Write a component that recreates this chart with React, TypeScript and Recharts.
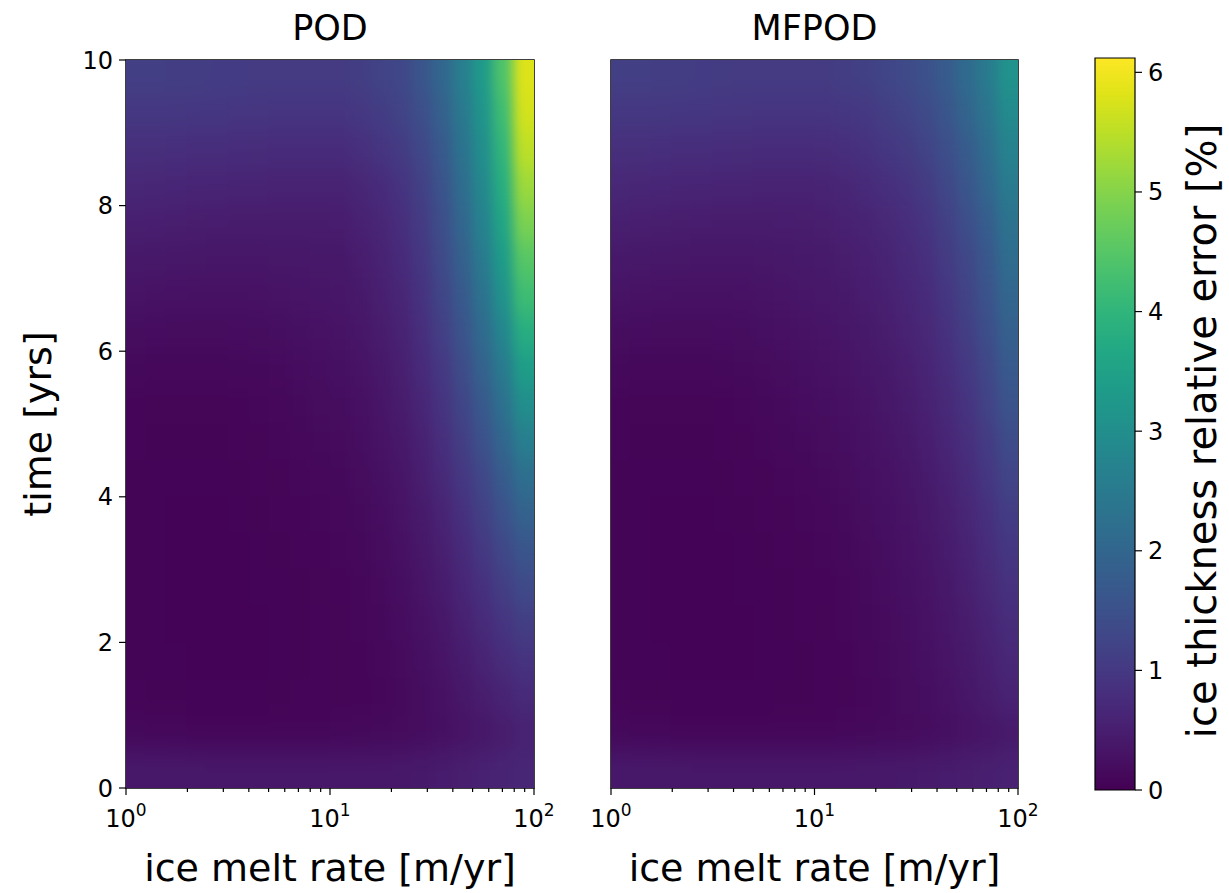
import React from 'react';
import { ScatterChart, Scatter, XAxis, YAxis, ReferenceArea, BarChart, Bar } from 'recharts';

const FONT = '"DejaVu Sans", "Liberation Sans", sans-serif';

// cell centres: melt rate (log spaced) and time
const rateCenters = [1.12, 1.41, 1.78, 2.24, 2.82, 3.55, 4.47, 5.62, 7.08, 8.91, 11.2, 14.1, 17.8, 22.4, 28.2, 35.5, 44.7, 56.2, 70.8, 89.1];
const timeCenters = [9.75, 9.25, 8.75, 8.25, 7.75, 7.25, 6.75, 6.25, 5.75, 5.25, 4.75, 4.25, 3.75, 3.25, 2.75, 2.25, 1.75, 1.25, 0.75, 0.25];

// relative error [%], one row per time centre (top row = t 9.75)
const podGrid = [
  [1.12, 1.12, 1.1, 1.1, 1.08, 1.08, 1.06, 1.05, 1.05, 1.05, 1.05, 1.1, 1.2, 1.3, 1.6, 2.0, 2.6, 3.3, 4.4, 5.8],
  [0.98, 0.98, 0.97, 0.96, 0.95, 0.94, 0.93, 0.92, 0.92, 0.92, 0.92, 0.98, 1.08, 1.2, 1.45, 1.85, 2.45, 3.15, 4.2, 5.7],
  [0.82, 0.82, 0.8, 0.79, 0.78, 0.77, 0.76, 0.75, 0.75, 0.75, 0.75, 0.82, 0.92, 1.05, 1.3, 1.7, 2.3, 3.0, 4.0, 5.5],
  [0.66, 0.65, 0.64, 0.62, 0.61, 0.6, 0.59, 0.58, 0.58, 0.58, 0.58, 0.65, 0.75, 0.9, 1.15, 1.55, 2.15, 2.85, 3.8, 5.2],
  [0.52, 0.51, 0.5, 0.48, 0.47, 0.46, 0.46, 0.46, 0.46, 0.46, 0.47, 0.55, 0.65, 0.8, 1.05, 1.45, 2.0, 2.7, 3.6, 4.9],
  [0.4, 0.39, 0.38, 0.37, 0.36, 0.36, 0.36, 0.37, 0.38, 0.39, 0.4, 0.47, 0.58, 0.72, 0.95, 1.35, 1.85, 2.5, 3.35, 4.5],
  [0.3, 0.29, 0.28, 0.27, 0.27, 0.27, 0.28, 0.3, 0.32, 0.34, 0.36, 0.42, 0.52, 0.65, 0.88, 1.25, 1.7, 2.3, 3.1, 4.2],
  [0.2, 0.19, 0.18, 0.18, 0.18, 0.19, 0.2, 0.22, 0.25, 0.28, 0.3, 0.36, 0.46, 0.58, 0.8, 1.12, 1.55, 2.1, 2.8, 3.8],
  [0.13, 0.12, 0.12, 0.12, 0.12, 0.13, 0.14, 0.16, 0.19, 0.22, 0.25, 0.3, 0.4, 0.52, 0.72, 1.0, 1.4, 1.9, 2.5, 3.4],
  [0.09, 0.08, 0.08, 0.08, 0.08, 0.09, 0.1, 0.12, 0.15, 0.18, 0.2, 0.26, 0.35, 0.46, 0.64, 0.9, 1.25, 1.7, 2.25, 3.0],
  [0.07, 0.06, 0.06, 0.06, 0.06, 0.07, 0.08, 0.1, 0.12, 0.15, 0.17, 0.22, 0.3, 0.4, 0.56, 0.8, 1.1, 1.5, 2.0, 2.6],
  [0.06, 0.05, 0.05, 0.05, 0.05, 0.06, 0.07, 0.08, 0.1, 0.12, 0.14, 0.18, 0.25, 0.35, 0.5, 0.7, 0.97, 1.3, 1.75, 2.2],
  [0.06, 0.05, 0.04, 0.04, 0.04, 0.05, 0.06, 0.07, 0.09, 0.1, 0.12, 0.15, 0.21, 0.3, 0.43, 0.6, 0.85, 1.15, 1.5, 1.9],
  [0.06, 0.05, 0.04, 0.04, 0.04, 0.04, 0.05, 0.06, 0.07, 0.09, 0.1, 0.13, 0.18, 0.26, 0.37, 0.52, 0.73, 1.0, 1.3, 1.6],
  [0.06, 0.05, 0.04, 0.04, 0.04, 0.04, 0.05, 0.05, 0.06, 0.08, 0.09, 0.11, 0.16, 0.22, 0.32, 0.45, 0.63, 0.85, 1.1, 1.35],
  [0.06, 0.05, 0.04, 0.04, 0.04, 0.04, 0.04, 0.05, 0.06, 0.07, 0.08, 0.1, 0.14, 0.19, 0.27, 0.38, 0.54, 0.72, 0.92, 1.1],
  [0.06, 0.05, 0.05, 0.04, 0.04, 0.04, 0.04, 0.05, 0.06, 0.07, 0.08, 0.09, 0.12, 0.17, 0.23, 0.32, 0.45, 0.6, 0.76, 0.9],
  [0.07, 0.06, 0.06, 0.05, 0.05, 0.05, 0.05, 0.06, 0.07, 0.07, 0.08, 0.09, 0.11, 0.15, 0.2, 0.27, 0.37, 0.48, 0.6, 0.72],
  [0.13, 0.12, 0.12, 0.11, 0.11, 0.11, 0.11, 0.11, 0.11, 0.11, 0.12, 0.13, 0.15, 0.17, 0.2, 0.25, 0.3, 0.38, 0.46, 0.55],
  [0.4, 0.4, 0.39, 0.39, 0.38, 0.38, 0.38, 0.38, 0.38, 0.38, 0.38, 0.38, 0.38, 0.4, 0.42, 0.45, 0.5, 0.55, 0.6, 0.65],
];

const mfpodGrid = [
  [1.12, 1.12, 1.1, 1.1, 1.08, 1.07, 1.06, 1.05, 1.05, 1.05, 1.05, 1.1, 1.15, 1.25, 1.35, 1.5, 1.75, 2.1, 2.5, 3.1],
  [0.98, 0.98, 0.97, 0.96, 0.95, 0.94, 0.93, 0.92, 0.92, 0.92, 0.92, 0.95, 1.0, 1.1, 1.2, 1.35, 1.6, 1.95, 2.35, 2.9],
  [0.82, 0.82, 0.8, 0.79, 0.78, 0.77, 0.76, 0.75, 0.75, 0.75, 0.76, 0.8, 0.86, 0.95, 1.05, 1.2, 1.45, 1.75, 2.15, 2.7],
  [0.66, 0.65, 0.64, 0.62, 0.61, 0.6, 0.59, 0.58, 0.58, 0.58, 0.6, 0.65, 0.72, 0.8, 0.9, 1.05, 1.3, 1.6, 2.0, 2.5],
  [0.52, 0.51, 0.5, 0.48, 0.47, 0.46, 0.46, 0.46, 0.47, 0.48, 0.5, 0.55, 0.6, 0.68, 0.78, 0.92, 1.15, 1.45, 1.8, 2.3],
  [0.4, 0.39, 0.38, 0.37, 0.36, 0.36, 0.36, 0.37, 0.39, 0.41, 0.43, 0.48, 0.53, 0.6, 0.7, 0.83, 1.05, 1.3, 1.65, 2.15],
  [0.3, 0.29, 0.28, 0.27, 0.27, 0.27, 0.28, 0.3, 0.33, 0.36, 0.38, 0.42, 0.47, 0.54, 0.63, 0.75, 0.95, 1.2, 1.55, 2.0],
  [0.2, 0.19, 0.18, 0.18, 0.18, 0.19, 0.2, 0.23, 0.26, 0.29, 0.32, 0.36, 0.41, 0.48, 0.57, 0.68, 0.86, 1.1, 1.42, 1.85],
  [0.13, 0.12, 0.12, 0.12, 0.12, 0.13, 0.15, 0.17, 0.2, 0.23, 0.27, 0.31, 0.36, 0.42, 0.5, 0.61, 0.78, 1.0, 1.3, 1.7],
  [0.09, 0.08, 0.08, 0.08, 0.08, 0.09, 0.11, 0.13, 0.16, 0.19, 0.22, 0.26, 0.31, 0.37, 0.45, 0.55, 0.7, 0.9, 1.18, 1.55],
  [0.07, 0.06, 0.06, 0.06, 0.06, 0.07, 0.08, 0.1, 0.13, 0.15, 0.18, 0.22, 0.27, 0.32, 0.4, 0.49, 0.63, 0.82, 1.06, 1.38],
  [0.06, 0.05, 0.05, 0.05, 0.05, 0.06, 0.07, 0.08, 0.1, 0.12, 0.15, 0.18, 0.23, 0.28, 0.35, 0.44, 0.56, 0.73, 0.95, 1.22],
  [0.06, 0.05, 0.04, 0.04, 0.04, 0.05, 0.06, 0.07, 0.08, 0.1, 0.12, 0.15, 0.2, 0.25, 0.31, 0.39, 0.5, 0.65, 0.85, 1.08],
  [0.06, 0.05, 0.04, 0.04, 0.04, 0.04, 0.05, 0.06, 0.07, 0.08, 0.1, 0.13, 0.17, 0.22, 0.28, 0.35, 0.45, 0.58, 0.76, 0.96],
  [0.06, 0.05, 0.04, 0.04, 0.04, 0.04, 0.05, 0.05, 0.06, 0.07, 0.09, 0.11, 0.15, 0.19, 0.25, 0.31, 0.4, 0.52, 0.68, 0.86],
  [0.06, 0.05, 0.04, 0.04, 0.04, 0.04, 0.04, 0.05, 0.06, 0.07, 0.08, 0.1, 0.13, 0.17, 0.22, 0.28, 0.36, 0.46, 0.6, 0.76],
  [0.06, 0.05, 0.05, 0.04, 0.04, 0.04, 0.04, 0.05, 0.05, 0.06, 0.07, 0.09, 0.12, 0.15, 0.2, 0.25, 0.32, 0.41, 0.53, 0.67],
  [0.07, 0.06, 0.06, 0.05, 0.05, 0.05, 0.05, 0.05, 0.06, 0.06, 0.07, 0.08, 0.11, 0.14, 0.18, 0.22, 0.28, 0.36, 0.46, 0.58],
  [0.13, 0.12, 0.12, 0.11, 0.11, 0.11, 0.11, 0.11, 0.11, 0.11, 0.11, 0.12, 0.13, 0.15, 0.17, 0.2, 0.24, 0.29, 0.35, 0.42],
  [0.4, 0.4, 0.39, 0.39, 0.38, 0.38, 0.38, 0.38, 0.38, 0.38, 0.38, 0.38, 0.39, 0.4, 0.41, 0.43, 0.45, 0.48, 0.52, 0.56],
];

const timeTicks = [0, 2, 4, 6, 8, 10];
const rateTicks = [1, 2, 3, 4, 5, 6, 7, 8, 9, 10, 20, 30, 40, 50, 60, 70, 80, 90, 100];
const majorExp: Record<number, string> = { 1: '0', 10: '1', 100: '2' };
const colorbarTicks = [0, 1, 2, 3, 4, 5, 6];
const CB_MAX = 6.12;

// viridis, 21 stops
const VIRIDIS = [
  '#440154', '#471365', '#482475', '#463480', '#414487', '#3b528b', '#355f8d',
  '#2f6c8e', '#2a788e', '#25848e', '#21918c', '#1e9c89', '#22a884', '#2fb47c',
  '#44bf70', '#5ec962', '#7ad151', '#9bd93c', '#bddf26', '#dfe318', '#fde725',
];

const hex = (h: string) => [1, 3, 5].map((i) => parseInt(h.slice(i, i + 2), 16));

function viridis(t: number) {
  const f = Math.max(0, Math.min(1, t)) * (VIRIDIS.length - 1);
  const i = Math.min(VIRIDIS.length - 2, Math.floor(f));
  const k = f - i;
  const a = hex(VIRIDIS[i]);
  const b = hex(VIRIDIS[i + 1]);
  const c = a.map((v, j) => Math.round(v + (b[j] - v) * k));
  return `rgb(${c[0]},${c[1]},${c[2]})`;
}

const NC = rateCenters.length;
const NR = timeCenters.length;

const toPoints = (grid: number[][]) =>
  grid.flatMap((row, r) =>
    row.map((v, c) => ({ rate: rateCenters[c], t: timeCenters[r], v, col: c, row: r }))
  );

const podPoints = toPoints(podGrid);
const mfpodPoints = toPoints(mfpodGrid);

const PLOT_H = 728;

const makeCell = (plotW: number) => (props: any) => {
  const { cx, cy, payload } = props;
  const w = plotW / NC;
  const h = PLOT_H / NR;
  let x0 = cx - w / 2 - 0.5;
  let x1 = cx + w / 2 + 0.5;
  let y0 = cy - h / 2 - 0.5;
  let y1 = cy + h / 2 + 0.5;
  // stretch the border cells so the blur does not fade at the frame
  if (payload.col === 0) x0 -= w;
  if (payload.col === NC - 1) x1 += w;
  if (payload.row === 0) y0 -= h;
  if (payload.row === NR - 1) y1 += h;
  return <rect x={x0} y={y0} width={x1 - x0} height={y1 - y0} fill={viridis(payload.v / CB_MAX)} />;
};

const RateTick = (props: any) => {
  const { x, y, payload } = props;
  const exp = majorExp[payload.value];
  return (
    <g>
      <line x1={x} y1={y} x2={x} y2={y + (exp ? 7 : 4)} stroke="#000" strokeWidth={1.2} />
      {exp && (
        <text x={x} y={y + 39} textAnchor="middle" fontSize={24} fontFamily={FONT} fill="#000">
          <tspan>10</tspan>
          <tspan dy={-11} fontSize={17}>{exp}</tspan>
        </text>
      )}
    </g>
  );
};

const xLabel = (p: any) => (
  <text
    x={p.viewBox.x + p.viewBox.width / 2}
    y={p.viewBox.y + 93}
    textAnchor="middle"
    fontSize={38}
    fontFamily={FONT}
    fill="#000"
  >
    ice melt rate [m/yr]
  </text>
);

const yLabel = (p: any) => {
  const x = p.viewBox.x - 28;
  const y = p.viewBox.y + p.viewBox.height / 2;
  return (
    <text x={x} y={y} transform={`rotate(-90, ${x}, ${y})`} textAnchor="middle" dominantBaseline="central"
      fontSize={38} fontFamily={FONT} fill="#000">
      time [yrs]
    </text>
  );
};

const cbLabel = (p: any) => {
  const x = p.viewBox.x + 67;
  const y = p.viewBox.y + p.viewBox.height / 2 + 7;
  return (
    <text x={x} y={y} transform={`rotate(-90, ${x}, ${y})`} textAnchor="middle" dominantBaseline="central"
      fontSize={40} fontFamily={FONT} fill="#000">
      ice thickness relative error [%]
    </text>
  );
};

const titleStyle: React.CSSProperties = {
  position: 'absolute',
  top: 8,
  fontSize: 35,
  fontFamily: FONT,
  color: '#000',
  textAlign: 'center',
  lineHeight: '40px',
};

function HeatPanel({ points, plotW, showY, margin }: any) {
  return (
    <ScatterChart width={margin.left + plotW + margin.right + (showY ? 60 : 0)} height={893} margin={margin}>
      <XAxis
        dataKey="rate"
        type="number"
        scale="log"
        domain={[1, 100]}
        allowDataOverflow
        ticks={rateTicks}
        interval={0}
        tick={<RateTick />}
        tickLine={false}
        tickSize={0}
        tickMargin={0}
        axisLine={false}
        height={70}
        label={{ content: xLabel }}
      />
      <YAxis
        dataKey="t"
        type="number"
        domain={[0, 10]}
        allowDataOverflow
        ticks={timeTicks}
        interval={0}
        hide={!showY}
        width={60}
        tickSize={7}
        tickMargin={6}
        tickLine={{ stroke: '#000', strokeWidth: 1.2 }}
        axisLine={false}
        tick={{ fill: '#000', fontSize: 24, fontFamily: FONT }}
        label={showY ? { content: yLabel } : undefined}
      />
      <Scatter
        className="heat"
        data={points}
        shape={makeCell(plotW)}
        isAnimationActive={false}
      />
      <ReferenceArea x1={1} x2={100} y1={0} y2={10} fill="none" stroke="#000" strokeWidth={1.5} />
    </ScatterChart>
  );
}

export default function App() {
  return (
    <div style={{ position: 'absolute', left: 0, top: 0, width: 1229, height: 893, background: '#fff', overflow: 'hidden' }}>
      <style>{'.heat { filter: url(#heatBlur); }'}</style>
      <svg width={0} height={0} style={{ position: 'absolute' }}>
        <defs>
          <filter id="heatBlur" x="-10%" y="-10%" width="120%" height="120%" colorInterpolationFilters="sRGB">
            <feGaussianBlur stdDeviation="6 12" />
          </filter>
          <linearGradient id="viridisV" x1="0" y1="1" x2="0" y2="0">
            {VIRIDIS.map((c, i) => (
              <stop key={i} offset={`${(i / (VIRIDIS.length - 1)) * 100}%`} stopColor={c} />
            ))}
          </linearGradient>
        </defs>
      </svg>

      <div style={{ ...titleStyle, left: 126, width: 408 }}>POD</div>
      <div style={{ ...titleStyle, left: 611, width: 407 }}>MFPOD</div>

      <div style={{ position: 'absolute', left: 0, top: 0 }}>
        <HeatPanel points={podPoints} plotW={408} showY margin={{ top: 60, right: 26, bottom: 35, left: 66 }} />
      </div>
      <div style={{ position: 'absolute', left: 560, top: 0 }}>
        <HeatPanel points={mfpodPoints} plotW={407} showY={false} margin={{ top: 60, right: 22, bottom: 35, left: 51 }} />
      </div>

      <div style={{ position: 'absolute', left: 1040, top: 0 }}>
        <BarChart width={189} height={893} data={[{ name: 'cb', v: CB_MAX }]} margin={{ top: 58, right: 0, bottom: 103, left: 55 }} barCategoryGap={0}>
          <XAxis dataKey="name" hide />
          <YAxis
            orientation="right"
            type="number"
            domain={[0, CB_MAX]}
            ticks={colorbarTicks}
            interval={0}
            width={94}
            tickSize={7}
            tickMargin={6}
            tickLine={{ stroke: '#000', strokeWidth: 1.2 }}
            axisLine={false}
            tick={{ fill: '#000', fontSize: 24, fontFamily: FONT }}
            label={{ content: cbLabel }}
          />
          <Bar dataKey="v" fill="url(#viridisV)" stroke="#000" strokeWidth={1.2} isAnimationActive={false} />
        </BarChart>
      </div>
    </div>
  );
}
